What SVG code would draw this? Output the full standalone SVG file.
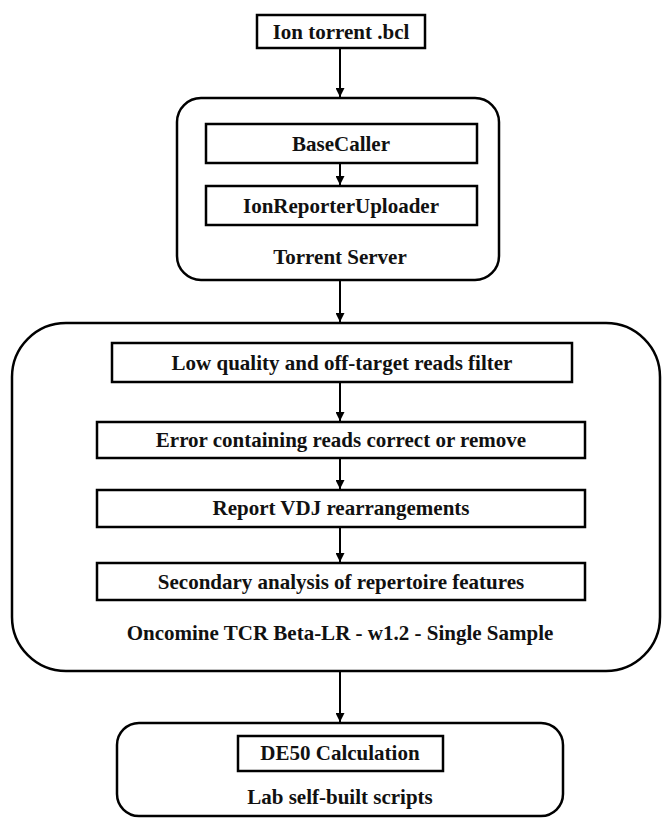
<svg xmlns="http://www.w3.org/2000/svg" width="662" height="821" viewBox="0 0 662 821">
<defs>
<marker id="ah" viewBox="0 0 10 10" refX="10" refY="5" markerWidth="4.5" markerHeight="4.5" markerUnits="strokeWidth" orient="auto">
<path d="M0,0 L10,5 L0,10 z" fill="#000"/>
</marker>
<style>
.box{fill:#fff;stroke:#000;stroke-width:2.5}
.cont{fill:#fff;stroke:#000;stroke-width:2.5}
.t{font-family:"Liberation Serif","Times New Roman",serif;font-weight:bold;font-size:21px;text-anchor:middle;fill:#111}
.c{stroke:#000;stroke-width:2;fill:none;marker-end:url(#ah)}
</style>
</defs>
<rect width="662" height="821" fill="#fff"/>
<g id="torrent-server">
<rect class="cont" x="177" y="98" width="322" height="182" rx="24"/>
<text class="t" x="340" y="264">Torrent Server</text>
</g>
<g id="oncomine">
<rect class="cont" x="12" y="323" width="648" height="348" rx="54"/>
<text class="t" x="340" y="640">Oncomine TCR Beta-LR - w1.2 - Single Sample</text>
</g>
<g id="lab-scripts">
<rect class="cont" x="117" y="723" width="446" height="93" rx="22"/>
<text class="t" x="340" y="804">Lab self-built scripts</text>
</g>
<g id="ion-torrent">
<rect class="box" x="257" y="15" width="168" height="33"/>
<text class="t" x="341" y="39">Ion torrent .bcl</text>
</g>
<g id="basecaller">
<rect class="box" x="206" y="124" width="271" height="39"/>
<text class="t" x="341" y="151">BaseCaller</text>
</g>
<g id="ionreporteruploader">
<rect class="box" x="206" y="186" width="271" height="39"/>
<text class="t" x="341" y="213">IonReporterUploader</text>
</g>
<g id="low-quality">
<rect class="box" x="112" y="343" width="460" height="39"/>
<text class="t" x="342" y="370">Low quality and off-target reads filter</text>
</g>
<g id="error-containing">
<rect class="box" x="97" y="422" width="488" height="36"/>
<text class="t" x="341" y="447">Error containing reads correct or remove</text>
</g>
<g id="report-vdj">
<rect class="box" x="97" y="490" width="488" height="37"/>
<text class="t" x="341" y="515">Report VDJ rearrangements</text>
</g>
<g id="secondary-analysis">
<rect class="box" x="97" y="563" width="488" height="37"/>
<text class="t" x="341" y="589">Secondary analysis of repertoire features</text>
</g>
<g id="de50">
<rect class="box" x="238" y="736" width="205" height="35"/>
<text class="t" x="340" y="760">DE50 Calculation</text>
</g>
<g id="connectors">
<line class="c" x1="340" y1="49" x2="340" y2="97"/>
<line class="c" x1="340" y1="164" x2="340" y2="185"/>
<line class="c" x1="340" y1="281" x2="340" y2="322"/>
<line class="c" x1="340" y1="383" x2="340" y2="421"/>
<line class="c" x1="340" y1="459" x2="340" y2="489"/>
<line class="c" x1="340" y1="528" x2="340" y2="562"/>
<line class="c" x1="340" y1="672" x2="340" y2="722"/>
</g>
</svg>
